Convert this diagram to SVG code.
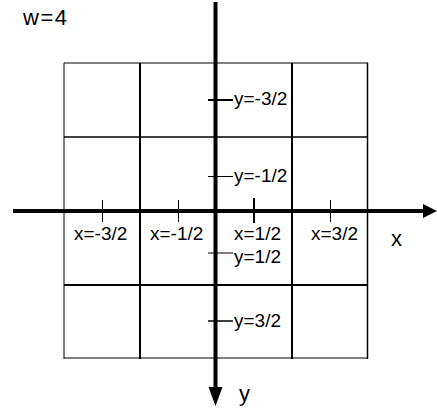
<svg xmlns="http://www.w3.org/2000/svg" width="437" height="413" viewBox="0 0 437 413">
<style>
.t{font-family:"Liberation Sans",Arial,sans-serif;font-size:19px;fill:#000}
.big{font-size:22px}
.g{stroke:#000;fill:none}
</style>
<rect width="437" height="413" fill="#fff"/>
<g id="grid" class="g">
<line x1="64" y1="63" x2="64" y2="359" stroke-width="1"/>
<line x1="140" y1="63" x2="140" y2="359" stroke-width="2"/>
<line x1="292" y1="63" x2="292" y2="359" stroke-width="2"/>
<line x1="367.5" y1="63" x2="367.5" y2="359" stroke-width="1.5"/>
<line x1="64" y1="63" x2="368" y2="63" stroke-width="1"/>
<line x1="64" y1="137" x2="368" y2="137" stroke-width="1.5"/>
<line x1="64" y1="285" x2="368" y2="285" stroke-width="2"/>
<line x1="64" y1="358" x2="368" y2="358" stroke-width="1"/>
</g>
<g id="axes">
<line x1="13" y1="211" x2="424" y2="211" stroke="#000" stroke-width="4"/>
<polygon points="423,204 437,211 423,218" fill="#000"/>
<line x1="215.5" y1="2" x2="215.5" y2="389" stroke="#000" stroke-width="4"/>
<polygon points="208.5,387 215.5,406 222.5,387" fill="#000"/>
</g>
<g id="ticks" class="g">
<line x1="102.5" y1="200" x2="102.5" y2="222" stroke-width="1"/>
<line x1="178.5" y1="200" x2="178.5" y2="222" stroke-width="1"/>
<line x1="254" y1="198" x2="254" y2="223" stroke-width="2"/>
<line x1="330.5" y1="200" x2="330.5" y2="222" stroke-width="1"/>
<line x1="208" y1="100" x2="233" y2="100" stroke-width="2"/>
<line x1="208" y1="176.5" x2="233" y2="176.5" stroke-width="1"/>
<line x1="208" y1="253" x2="233" y2="253" stroke-width="1"/>
<line x1="208" y1="321" x2="233" y2="321" stroke-width="1.5"/>
</g>
<g id="labels">
<text class="t big" x="23" y="25" letter-spacing="1.5">w=4</text>
<text class="t" x="74" y="240">x=-3/2</text>
<text class="t" x="150" y="240">x=-1/2</text>
<text class="t" x="234" y="240">x=1/2</text>
<text class="t" x="311" y="240">x=3/2</text>
<text class="t" x="234" y="263">y=1/2</text>
<text class="t" x="234" y="105">y=-3/2</text>
<text class="t" x="234" y="182">y=-1/2</text>
<text class="t" x="234" y="327">y=3/2</text>
<text class="t big" x="391" y="246">x</text>
<text class="t big" x="239" y="401">y</text>
</g>
</svg>
